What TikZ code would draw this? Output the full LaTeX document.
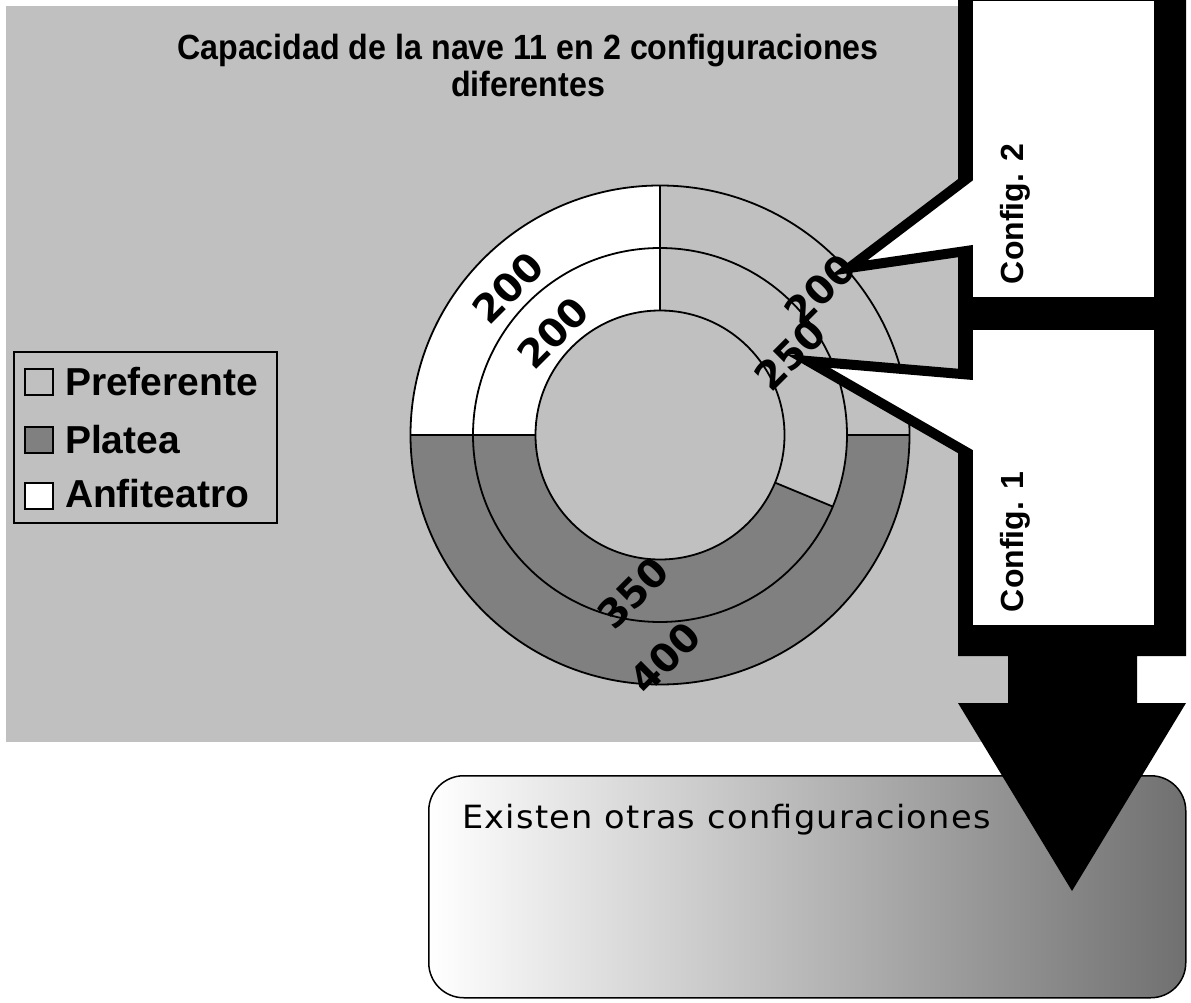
\documentclass[tikz,border=0pt]{standalone}
\usepackage{fontspec}
\setmainfont{Liberation Sans}
\newfontfamily\titlefont[FakeStretch=0.92]{Liberation Sans}
\newfontfamily\numfont{DejaVu Sans}
\newfontfamily\boxfont[FakeStretch=1.05,LetterSpace=4]{DejaVu Sans}
\definecolor{bgc}{HTML}{C0C0C0}
\definecolor{plat}{HTML}{808080}
\definecolor{shadeend}{HTML}{707070}
\begin{document}
\begin{tikzpicture}[x=1pt,y=-1pt,
  txt/.style={inner sep=0pt, outer sep=0pt},
  numlbl/.style={txt, rotate=45, font=\fontsize{39}{39}\selectfont\numfont\bfseries},
  leglbl/.style={txt, anchor=base west, font=\fontsize{39}{39}\selectfont\bfseries},
  legsq/.style={draw=black, line width=2pt, minimum width=28pt, minimum height=26pt, inner sep=0pt},
  cfgbox/.style={fill=white, inner sep=0pt, outer sep=0pt, minimum width=181pt, anchor=north west},
  cfglbl/.style={txt, rotate=90, anchor=base west, font=\fontsize{32}{32}\selectfont\bfseries},
  ringline/.style={draw=black, line width=1.8pt},
  calloutline/.style={draw=black, line width=10pt, line join=miter, shorten <=-6pt, shorten >=-6pt},
  titletxt/.style={txt, anchor=base, font=\fontsize{35}{35}\selectfont\titlefont\bfseries}
]
\useasboundingbox (0,0) rectangle (1191,1003);
\fill[white] (0,0) rectangle (1191,1003);
% chart area
\fill[bgc] (6,6) rectangle (1010,742);

% title
\node[titletxt] (title1) at (528,60) {Capacidad de la nave 11 en 2 configuraciones};
\node[titletxt] (title2) at (528,97) {diferentes};

% doughnut chart
\begin{scope}[shift={(660,435)}, x=1pt, y=1pt]
  % outer ring (Config. 2)
  \fill[bgc] (0:249.5) arc[start angle=0, end angle=90, radius=249.5] -- (90:187) arc[start angle=90, end angle=0, radius=187] -- cycle;
  \fill[white] (90:249.5) arc[start angle=90, end angle=180, radius=249.5] -- (180:187) arc[start angle=180, end angle=90, radius=187] -- cycle;
  \fill[plat] (180:249.5) arc[start angle=180, end angle=360, radius=249.5] -- (360:187) arc[start angle=360, end angle=180, radius=187] -- cycle;
  % inner ring (Config. 1)
  \fill[bgc] (-22.5:187) arc[start angle=-22.5, end angle=90, radius=187] -- (90:124.5) arc[start angle=90, end angle=-22.5, radius=124.5] -- cycle;
  \fill[white] (90:187) arc[start angle=90, end angle=180, radius=187] -- (180:124.5) arc[start angle=180, end angle=90, radius=124.5] -- cycle;
  \fill[plat] (180:187) arc[start angle=180, end angle=337.5, radius=187] -- (337.5:124.5) arc[start angle=337.5, end angle=180, radius=124.5] -- cycle;
  \fill[bgc] (0,0) circle[radius=124.5];
  % outlines
  \draw[ringline] (0,0) circle[radius=249.5];
  \draw[ringline] (0,0) circle[radius=187];
  \draw[ringline] (0,0) circle[radius=124.5];
  \draw[ringline] (90:124.5) -- (90:249.5);
  \draw[ringline] (180:124.5) -- (180:249.5);
  \draw[ringline] (0:187) -- (0:249.5);
  \draw[ringline] (-22.5:124.5) -- (-22.5:187);
\end{scope}

% data labels
\node[numlbl] (v200a) at (508,288) {200};
\node[numlbl] (v200b) at (553,333) {200};
\node[numlbl] (v200c) at (820,290) {200};
\node[numlbl] (v250) at (790,355) {250};
\node[numlbl] (v350) at (633,593) {350};
\node[numlbl] (v400) at (665,658) {400};

% legend
\node[draw=black, line width=2pt, fill=bgc, minimum width=263pt, minimum height=171pt, anchor=north west, inner sep=0pt] (legend) at (13,351) {};
\node[legsq, fill=bgc] (sq1) at (39,381.5) {};
\node[legsq, fill=plat] (sq2) at (39,440) {};
\node[legsq, fill=white] (sq3) at (39,495.5) {};
\node[leglbl] (lg1) at (65,395) {Preferente};
\node[leglbl] (lg2) at (65,453) {Platea};
\node[leglbl] (lg3) at (65,507) {Anfiteatro};

% note box
\node[draw=black, line width=1.5pt, rounded corners=35pt, left color=white, right color=shadeend,
      minimum width=757pt, minimum height=222pt, anchor=north west, inner sep=0pt] (note) at (428,775) {};
\node[txt, anchor=base west, font=\fontsize{32}{32}\selectfont\boxfont] (notetxt) at (462,828) {Existen otras configuraciones};

% black frame with down arrow
\fill[black] (958,0) -- (1186,0) -- (1186,656) -- (1137,656) -- (1137,703) -- (1186,703)
  -- (1072,891) -- (958,703) -- (1008,703) -- (1008,656) -- (958,656) -- cycle;

% callouts
\coordinate (tip2) at (849,268);
\coordinate (c2a) at (973,174);
\coordinate (c2b) at (973,250);
\coordinate (tip1) at (808,361);
\coordinate (c1a) at (973,375);
\coordinate (c1b) at (973,456);
\fill[white] (tip2) -- (980,169) -- (980,249) -- cycle;
\fill[white] (tip1) -- (980,376) -- (980,460) -- cycle;
\draw[calloutline] (c2a) -- (tip2) -- (c2b);
\draw[calloutline] (c1a) -- (tip1) -- (c1b);

% config boxes
\node[cfgbox, minimum height=295.5pt] (cfg2) at (973,1.5) {};
\node[cfgbox, minimum height=295pt] (cfg1) at (973,330) {};
\node[cfglbl] (cfg2lbl) at (1023,284) {Config. 2};
\node[cfglbl] (cfg1lbl) at (1023,612) {Config. 1};
\end{tikzpicture}
\end{document}
